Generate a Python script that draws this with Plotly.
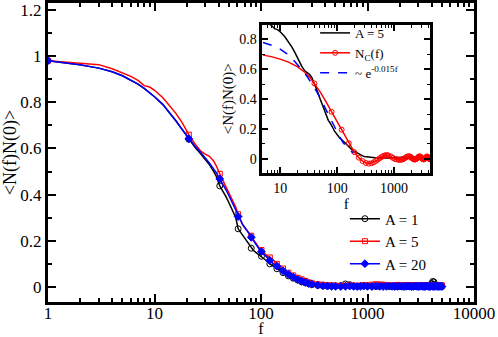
import plotly.graph_objects as go

# main panel: f values (integer lags) and correlation for A = 1, 5, 20
F_MAIN = [1, 2, 3, 4, 5, 6, 7, 8, 9, 10, 12, 14, 16, 18, 21, 24, 27, 30, 33, 36, 38,
          41, 44, 47, 50, 53, 56, 58, 61, 64, 67, 70, 74, 77, 81, 85, 90, 95,
          101, 111, 121, 131, 141, 151, 161, 171, 181, 201, 221, 241, 261, 281,
          301, 341, 381, 421, 461,
          501, 561, 621, 681, 741, 801, 861, 921,
          1001, 1101, 1201, 1301, 1401, 1501, 1601, 1701, 1801, 1901,
          2001, 2101, 2201, 2301, 2401, 2501, 2601, 2701, 2801, 2901,
          3001, 3101, 3201, 3301, 3401, 3501, 3601, 3701, 3801, 3901,
          4001, 4101, 4201, 4301, 4401, 4501, 4601, 4701, 4801, 4901, 5001]

A1 = [0.98, 0.962, 0.948, 0.932, 0.915, 0.897, 0.879, 0.86, 0.842, 0.824, 0.79, 0.753,
      0.718, 0.685, 0.64, 0.605, 0.578, 0.552, 0.528, 0.5, 0.48,
      0.438, 0.415, 0.39, 0.365, 0.34, 0.315, 0.3, 0.252, 0.238, 0.224, 0.21, 0.196,
      0.185, 0.168, 0.158, 0.149, 0.141,
      0.133, 0.116, 0.1, 0.089, 0.079, 0.07, 0.062, 0.055, 0.048, 0.038, 0.03,
      0.022, 0.018, 0.014,
      0.01, 0.007, 0.005, 0.004, 0.004,
      0.004, 0.006, 0.013, 0.01, 0.004, 0.003, 0.004, 0.005,
      0.003, 0.004, 0.002, 0.003, 0.005, 0.004, 0.002, 0.003, 0.004, 0.003,
      0.002, 0.004, 0.005, 0.003, 0.002, 0.004, 0.003, 0.002, 0.003, 0.004,
      0.003, 0.002, 0.003, 0.004, 0.003, 0.002, 0.004, 0.003, 0.005, 0.008,
      0.015, 0.024, 0.022, 0.01, 0.004, 0.003, 0.002, 0.003, 0.004, 0.003, 0.002]

A5 = [0.98, 0.97, 0.963, 0.945, 0.928, 0.912, 0.895, 0.872, 0.866, 0.852, 0.82, 0.785,
      0.75, 0.715, 0.66, 0.62, 0.59, 0.575, 0.565, 0.545, 0.525,
      0.49, 0.46, 0.435, 0.405, 0.38, 0.36, 0.345, 0.315, 0.29, 0.27, 0.258, 0.245,
      0.235, 0.222, 0.205, 0.185, 0.172,
      0.16, 0.14, 0.128, 0.115, 0.1, 0.09, 0.08, 0.07, 0.062, 0.05, 0.04,
      0.033, 0.026, 0.02,
      0.016, 0.012, 0.01, 0.008, 0.007,
      0.006, 0.005, 0.006, 0.007, 0.006, 0.005, 0.006, 0.007,
      0.008, 0.01, 0.012, 0.011, 0.01, 0.008, 0.007, 0.006, 0.008, 0.009,
      0.007, 0.006, 0.006, 0.007, 0.008, 0.007, 0.006, 0.007, 0.008, 0.007,
      0.006, 0.007, 0.008, 0.007, 0.006, 0.007, 0.008, 0.007, 0.006, 0.007,
      0.008, 0.007, 0.006, 0.008, 0.009, 0.008, 0.007, 0.006, 0.007, 0.008, 0.007]

A20 = [0.98, 0.963, 0.948, 0.932, 0.915, 0.897, 0.879, 0.86, 0.842, 0.824, 0.79, 0.753,
       0.718, 0.685, 0.642, 0.61, 0.585, 0.56, 0.535, 0.51, 0.495,
       0.468, 0.445, 0.42, 0.395, 0.37, 0.345, 0.33, 0.305, 0.285, 0.272, 0.26, 0.245,
       0.232, 0.215, 0.2, 0.182, 0.168,
       0.153, 0.133, 0.115, 0.1, 0.09, 0.08, 0.07, 0.062, 0.055, 0.043, 0.033,
       0.026, 0.02, 0.015,
       0.012, 0.008, 0.005, 0.004, 0.003,
       0.003, 0.002, 0.003, 0.004, 0.003, 0.002, 0.003, 0.004,
       0.003, 0.002, 0.004, 0.003, 0.002, 0.003, 0.004, 0.003, 0.002, 0.003,
       0.004, 0.003, 0.002, 0.003, 0.004, 0.003, 0.002, 0.003, 0.004, 0.003,
       0.002, 0.003, 0.004, 0.003, 0.002, 0.003, 0.004, 0.003, 0.002, 0.003,
       0.004, 0.003, 0.002, 0.003, 0.004, 0.003, 0.002, 0.003, 0.004, 0.003, 0.002]

# inset: N_C(f) and the exponential guide
F_NC = [5, 7, 10, 14, 20, 27, 33, 40, 50, 60, 70, 80, 100, 120, 140, 160, 200, 240, 280,
        320, 360, 400, 440, 480, 520, 560, 600, 640, 680, 720, 760, 800, 880, 960,
        1040, 1120, 1200, 1280, 1360, 1440, 1520, 1600, 1680, 1760,
        1840, 1920, 2000, 2080, 2160, 2240, 2320, 2400, 2480, 2560,
        2640, 2720, 2800, 2880, 2960, 3040, 3120, 3200, 3280, 3360,
        3440, 3520, 3600, 3680, 3760, 3840, 3920, 4000, 4080, 4160,
        4240, 4320, 4400, 4480, 4560, 4640, 4720, 4800, 4880, 4960]
NC = [0.695, 0.685, 0.668, 0.648, 0.618, 0.58, 0.548, 0.505, 0.45, 0.4, 0.355, 0.315,
      0.25, 0.195, 0.145, 0.105, 0.045, 0.008, -0.015,
      -0.028, -0.032, -0.03, -0.023, -0.014, -0.005, 0.004, 0.012, 0.018, 0.022, 0.024,
      0.024, 0.022, 0.015, 0.006,
      -0.001, -0.004, -0.006, -0.007, -0.006, -0.002, 0.003, 0.009, 0.014, 0.017,
      0.017, 0.014, 0.009, 0.004, -0.001, -0.004, -0.005, -0.003, 0.001, 0.006,
      0.011, 0.015, 0.016, 0.015, 0.011, 0.006, 0.001, -0.002, -0.004, -0.003,
      0.0, 0.004, 0.009, 0.013, 0.015, 0.015, 0.012, 0.008, 0.003, -0.001,
      -0.003, -0.003, -0.001, 0.003, 0.008, 0.012, 0.014, 0.014, 0.011, 0.007]

F_FIT = [5, 6, 8, 10, 13, 16, 20, 25, 30, 36, 43, 50, 58, 67, 77, 88, 100, 115, 130, 150,
         170, 195]
FIT = [0.78, 0.772, 0.755, 0.735, 0.705, 0.675, 0.635, 0.59, 0.55, 0.505, 0.455, 0.41,
       0.36, 0.31, 0.26, 0.215, 0.175, 0.135, 0.105, 0.075, 0.055, 0.04]

assert len(F_MAIN) == len(A1) == len(A5) == len(A20)
assert len(F_NC) == len(NC) and len(F_FIT) == len(FIT)

SERIF = "Liberation Serif"


def serif(size):
    return dict(family=SERIF, size=size, color="black")


fig = go.Figure()

# markers sit on every 20th lag, like the original data file
main_series = [
    ("A = 1", A1, "black", "circle-open", 6),
    ("A = 5", A5, "red", "square-open", 5),
    ("A = 20", A20, "blue", "diamond", 6),
]
for name, vals, color, symbol, size in main_series:
    fig.add_trace(go.Scatter(
        x=F_MAIN, y=vals, mode="lines", line=dict(color=color, width=1.5),
        legendgroup=name, showlegend=False
    ))
    mx = [f for f in F_MAIN if (f - 1) % 20 == 0]
    my = [v for f, v in zip(F_MAIN, vals) if (f - 1) % 20 == 0]
    fig.add_trace(go.Scatter(
        x=mx, y=my, mode="markers",
        marker=dict(symbol=symbol, size=size, color=color, line=dict(color=color, width=1)),
        legendgroup=name, showlegend=False
    ))
    fig.add_trace(go.Scatter(
        x=[None], y=[None], mode="lines+markers", name=name,
        line=dict(color=color, width=1.5),
        marker=dict(symbol=symbol, size=size, color=color, line=dict(color=color, width=1)),
        legendgroup=name, legend="legend"
    ))

# inset
fig.add_trace(go.Scatter(
    x=F_MAIN, y=A5, mode="lines", name="A = 5",
    line=dict(color="black", width=1.5),
    xaxis="x2", yaxis="y2", legend="legend2"
))
nc_mark = [f % 40 == 0 for f in F_NC]
fig.add_trace(go.Scatter(
    x=F_NC, y=NC, mode="lines", line=dict(color="red", width=1.5),
    xaxis="x2", yaxis="y2", legendgroup="nc", showlegend=False
))
fig.add_trace(go.Scatter(
    x=[f for f, m in zip(F_NC, nc_mark) if m],
    y=[v for v, m in zip(NC, nc_mark) if m],
    mode="markers", marker=dict(symbol="circle-open", size=5, color="red"),
    xaxis="x2", yaxis="y2", legendgroup="nc", showlegend=False
))
fig.add_trace(go.Scatter(
    x=[None], y=[None], mode="lines+markers", name="N<sub>C</sub>(f)",
    line=dict(color="red", width=1.5),
    marker=dict(symbol="circle-open", size=5, color="red"),
    xaxis="x2", yaxis="y2", legendgroup="nc", legend="legend2"
))
fig.add_trace(go.Scatter(
    x=F_FIT, y=FIT, mode="lines", name="~ e<sup>-0.015f</sup>",
    line=dict(color="blue", width=1.5, dash="dash"),
    xaxis="x2", yaxis="y2", legend="legend2"
))

axis_style = dict(
    showline=True, linewidth=3, linecolor="black", mirror="allticks",
    ticks="inside", tickcolor="black", tickwidth=1.5, showgrid=False, zeroline=False,
    automargin=False,
)

fig.update_layout(
    width=498, height=337,
    margin=dict(l=48, r=24, t=3, b=35),
    paper_bgcolor="white", plot_bgcolor="white",
    font=serif(15),
    xaxis=dict(
        **axis_style, type="log", range=[0, 4], domain=[0, 1], ticklen=8,
        tickvals=[1, 10, 100, 1000, 10000], ticktext=["1", "10", "100", "1000", "10000"],
        minor=dict(ticks="inside", ticklen=4, tickwidth=1.5, tickcolor="black", dtick="D1"),
        tickfont=serif(17), ticklabelstandoff=-6,
        title=dict(text="f", font=serif(16), standoff=7),
    ),
    yaxis=dict(
        **axis_style, range=[-0.065, 1.23], domain=[0, 1], ticklen=8,
        tickvals=[0, 0.2, 0.4, 0.6, 0.8, 1.0, 1.2],
        ticktext=["0", "0.2", "0.4", "0.6", "0.8", "1", "1.2"],
        minor=dict(ticks="inside", ticklen=4, tickwidth=1.5, tickcolor="black", dtick=0.1),
        tickfont=serif(17),
        title=dict(text="<N(f)N(0)>", font=serif(18), standoff=4),
    ),
    xaxis2=dict(
        **axis_style, type="log", range=[0.69, 3.63], domain=[0.5035, 0.8967],
        anchor="y2", ticklen=6,
        tickvals=[10, 100, 1000], ticktext=["10", "100", "1000"],
        minor=dict(ticks="inside", ticklen=3, tickwidth=1, tickcolor="black", dtick="D1"),
        tickfont=serif(14),
        title=dict(text="f", font=serif(15), standoff=0),
    ),
    yaxis2=dict(
        **axis_style, range=[-0.095, 0.9], domain=[0.4314, 0.928],
        anchor="x2", ticklen=6,
        tickvals=[0, 0.2, 0.4, 0.6, 0.8], ticktext=["0", "0.2", "0.4", "0.6", "0.8"],
        minor=dict(ticks="inside", ticklen=3, tickwidth=1, tickcolor="black", dtick=0.1),
        tickfont=serif(14),
        title=dict(text="<N(f)N(0)>", font=serif(15), standoff=2),
    ),
    legend=dict(
        x=0.697, y=0.333, xanchor="left", yanchor="top",
        bgcolor="rgba(0,0,0,0)", font=serif(15), tracegroupgap=0,
    ),
    legend2=dict(
        x=0.627, y=0.95, xanchor="left", yanchor="top",
        bgcolor="rgba(0,0,0,0)", font=serif(13), tracegroupgap=0,
    ),
)

# the page body has a default 8px margin; drop it so the figure fills the window
fig.write_html(
    "out.html",
    config={"displayModeBar": False},
    post_script="document.body.style.margin = '0';",
)
